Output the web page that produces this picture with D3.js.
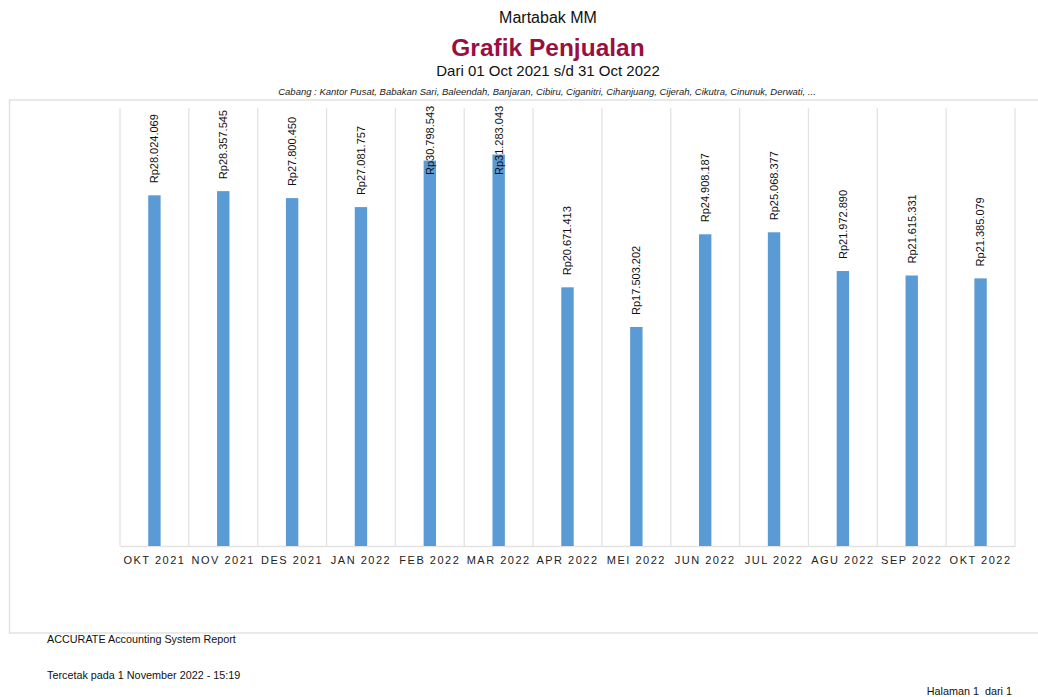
<!DOCTYPE html>
<html lang="id">
<head>
<meta charset="UTF-8">
<title>Grafik Penjualan</title>
<script src="https://d3js.org/d3.v7.min.js"></script>
<style>
    body { margin: 0; background: #fff; }
    svg { display: block; font-family: "Liberation Sans", Arial, sans-serif; }
</style>
</head>
<body>
<div id="chart"></div>
<script>
    const months = ["OKT 2021", "NOV 2021", "DES 2021", "JAN 2022", "FEB 2022", "MAR 2022", "APR 2022",
        "MEI 2022", "JUN 2022", "JUL 2022", "AGU 2022", "SEP 2022", "OKT 2022"];
    const sales = [28024069, 28357545, 27800450, 27081757, 30798543, 31283043, 20671413,
        17503202, 24908187, 25068377, 21972890, 21615331, 21385079];

    const width = 1038;
    const height = 697;
    const marginLeft = 120;
    const marginRight = 23;
    const plotTop = 108;
    const plotBottom = 546;

    const svg = d3.select("#chart")
        .append("svg")
        .attr("width", width)
        .attr("height", height);

    // header
    svg.append("text").attr("x", 548).attr("y", 23).attr("text-anchor", "middle")
        .attr("font-size", 16).attr("fill", "#111").text("Martabak MM");
    svg.append("text").attr("x", 548).attr("y", 56).attr("text-anchor", "middle")
        .attr("font-size", 24.5).attr("font-weight", "bold").attr("fill", "#9b0f3f").text("Grafik Penjualan");
    svg.append("text").attr("x", 548).attr("y", 76).attr("text-anchor", "middle")
        .attr("font-size", 15).attr("fill", "#111").text("Dari 01 Oct 2021 s/d 31 Oct 2022");
    svg.append("text").attr("x", 547).attr("y", 95).attr("text-anchor", "middle")
        .attr("font-size", 9.5).attr("font-style", "italic").attr("fill", "#222")
        .text("Cabang : Kantor Pusat, Babakan Sari, Baleendah, Banjaran, Cibiru, Ciganitri, Cihanjuang, Cijerah, Cikutra, Cinunuk, Derwati,  ...");

    // frame (no right edge)
    svg.append("path")
        .attr("d", `M${width},100H9.5V633H${width}`)
        .attr("fill", "none")
        .attr("stroke", "#e2e2e2")
        .attr("stroke-width", 1.5);

    const x = d3.scaleBand().domain(months).range([marginLeft, width - marginRight]).padding(0);
    const y = d3.scaleLinear().domain([0, 35000000]).range([plotBottom, plotTop]);

    // vertical grid lines
    svg.append("g")
        .selectAll("line")
        .data(months.concat(["__end"]))
        .join("line")
        .attr("x1", (d, i) => i < months.length ? x(d) : x.range()[1])
        .attr("x2", (d, i) => i < months.length ? x(d) : x.range()[1])
        .attr("y1", plotTop)
        .attr("y2", plotBottom)
        .attr("stroke", "#e3e3e3")
        .attr("stroke-width", 1.3);

    // x axis
    svg.append("g")
        .attr("transform", `translate(0,${plotBottom})`)
        .call(d3.axisBottom(x).tickSize(0).tickPadding(10))
        .call(g => g.select(".domain").attr("stroke", "#e3e3e3").attr("stroke-width", 1.3))
        .call(g => g.selectAll("text")
            .attr("font-size", 11)
            .attr("letter-spacing", 1.5)
            .attr("fill", "#222"));

    const barW = x.bandwidth() * 0.18;

    svg.append("g")
        .selectAll("rect")
        .data(sales)
        .join("rect")
        .attr("x", (d, i) => x(months[i]) + x.bandwidth() / 2 - barW / 2)
        .attr("y", d => y(d))
        .attr("width", barW)
        .attr("height", d => plotBottom - y(d))
        .attr("fill", "#5b9bd5");

    const fmt = v => "Rp" + d3.format(",")(v).replace(/,/g, ".");
    const labelLen = 71;

    // value labels, pushed down when they would run past the top of the plot
    svg.append("g")
        .selectAll("text")
        .data(sales)
        .join("text")
        .attr("transform", (d, i) => {
            const cx = x(months[i]) + x.bandwidth() / 2;
            const start = Math.max(y(d) - 12, 104 + labelLen);
            return `translate(${cx},${start}) rotate(-90)`;
        })
        .attr("dy", "0.35em")
        .attr("font-size", 11)
        .attr("fill", "#111")
        .text(d => fmt(d));

    // footer
    svg.append("text").attr("x", 47).attr("y", 643).attr("font-size", 10.8).attr("fill", "#111")
        .text("ACCURATE Accounting System Report");
    svg.append("text").attr("x", 47).attr("y", 679).attr("font-size", 10.8).attr("fill", "#111")
        .text("Tercetak pada 1 November 2022 - 15:19");
    svg.append("text").attr("x", 1012).attr("y", 695).attr("text-anchor", "end").attr("font-size", 10.8)
        .attr("fill", "#111").attr("xml:space", "preserve").text("Halaman 1  dari 1");
</script>
</body>
</html>
